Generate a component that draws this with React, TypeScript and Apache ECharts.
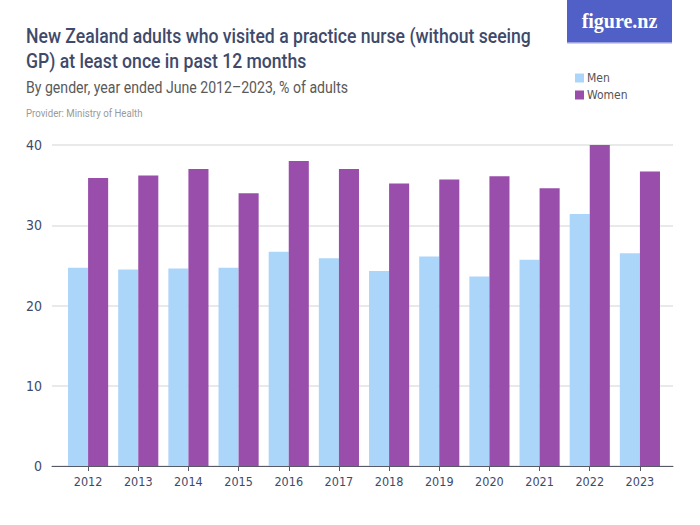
import React, { useEffect, useRef } from "react";
import * as echarts from "echarts";

const years = ["2012","2013","2014","2015","2016","2017","2018","2019","2020","2021","2022","2023"];
const men = [24.7, 24.5, 24.6, 24.7, 26.7, 25.9, 24.3, 26.1, 23.6, 25.7, 31.4, 26.5];
const women = [35.9, 36.2, 37.0, 34.0, 38.0, 37.0, 35.2, 35.7, 36.1, 34.6, 40.0, 36.7];
const yTicks = [0, 10, 20, 30, 40];

const FONT = "Roboto, 'DejaVu Sans Condensed', sans-serif";
const NARROW = "'DejaVu Sans Condensed', Roboto, sans-serif";
const INK = "#3f4a6b";

export default function App() {
  const ref = useRef<HTMLDivElement>(null);
  useEffect(() => {
    if (!ref.current) return;
    const chart = echarts.init(ref.current, undefined, { renderer: "svg" });
    const yMin = yTicks[0];
    const yMax = yTicks[yTicks.length - 1];
    chart.setOption({
      animation: false,
      backgroundColor: "#ffffff",
      textStyle: { fontFamily: NARROW },
      grid: [
        { left: 52, right: 27, top: 145, bottom: 59 },
        { left: 63, right: 35, top: 145, bottom: 59 },
      ],
      xAxis: [
        {
          gridIndex: 0, type: "value", min: 0, max: 1,
          axisLine: { show: true, lineStyle: { color: "#555a66", width: 1 } },
          axisTick: { show: false }, axisLabel: { show: false }, splitLine: { show: false },
        },
        {
          gridIndex: 1, type: "category", data: years,
          axisLine: { show: false },
          axisTick: { show: true, alignWithLabel: true, length: 5, lineStyle: { color: "#555a66" } },
          axisLabel: { color: INK, fontSize: 12.5, margin: 9, fontFamily: NARROW },
        },
      ],
      yAxis: [
        {
          gridIndex: 0, type: "value", min: yMin, max: yMax, interval: 10,
          axisLine: { show: false }, axisTick: { show: false },
          axisLabel: { color: INK, fontSize: 14, margin: 10, fontFamily: NARROW },
          splitLine: { show: true, lineStyle: { color: "#e2e2e2", width: 1.5 } },
        },
        {
          gridIndex: 1, type: "value", min: yMin, max: yMax, interval: 10,
          show: false, splitLine: { show: false },
        },
      ],
      legend: {
        orient: "vertical", left: 570, top: 67, itemWidth: 9, itemHeight: 9, itemGap: 5,
        icon: "rect",
        textStyle: { color: "#555555", fontSize: 12, fontFamily: NARROW, padding: [0, 0, 0, -2] },
        data: ["Men", "Women"],
      },
      series: [
        {
          name: "Men", type: "bar", xAxisIndex: 1, yAxisIndex: 1, data: men,
          itemStyle: { color: "#acd6f9" }, barGap: "0%", barCategoryGap: "20%", z: 3,
        },
        {
          name: "Women", type: "bar", xAxisIndex: 1, yAxisIndex: 1, data: women,
          itemStyle: { color: "#984eaa" }, barGap: "0%", barCategoryGap: "20%", z: 3,
        },
      ],
      graphic: [
        {
          type: "text", x: 26, y: 24, scaleX: 0.88,
          style: {
            text: "New Zealand adults who visited a practice nurse (without seeing\nGP) at least once in past 12 months",
            font: "500 20px " + FONT, fill: INK, lineHeight: 25, verticalAlign: "top",
          },
        },
        {
          type: "text", x: 26, y: 79, scaleX: 0.83,
          style: { text: "By gender, year ended June 2012–2023, % of adults", font: "17px " + FONT, fill: "#5a5a5a", verticalAlign: "top" },
        },
        {
          type: "text", x: 26, y: 107, scaleX: 0.84,
          style: { text: "Provider: Ministry of Health", font: "11.5px " + FONT, fill: "#9a9a9a", verticalAlign: "top" },
        },
        {
          type: "rect", shape: { x: 567, y: 0, width: 105, height: 42 },
          style: { fill: "#5060c6" },
        },
        {
          type: "rect", shape: { x: 567, y: 42, width: 105, height: 1.5 },
          style: { fill: "#9aa3e0" },
        },
        {
          type: "text", x: 619.5, y: 21,
          style: { text: "figure.nz", font: "bold 20px 'Liberation Serif', 'DejaVu Serif', serif", fill: "#ffffff", align: "center", verticalAlign: "middle" },
        },
      ],
    });
    return () => chart.dispose();
  }, []);
  return <div ref={ref} style={{ position: "fixed", left: 0, top: 0, width: 700, height: 525 }} />;
}
